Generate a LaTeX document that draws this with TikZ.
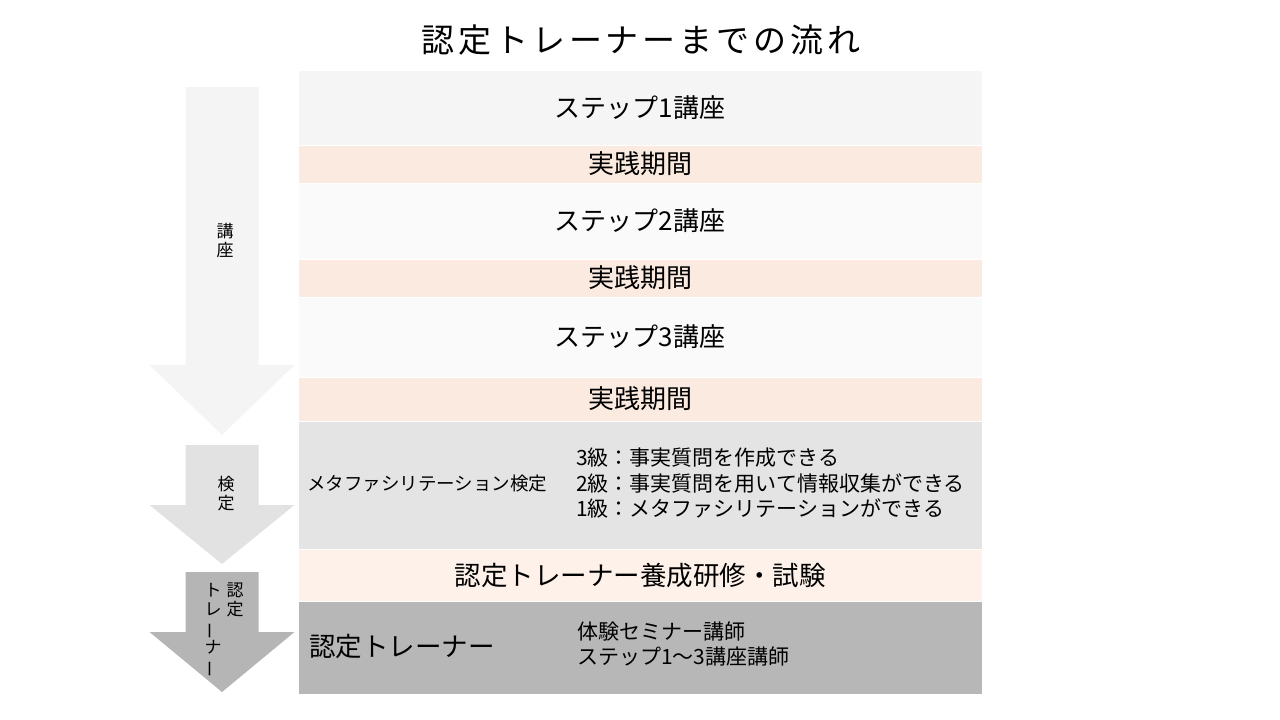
\documentclass[tikz,border=0pt]{standalone}
\usepackage{fontspec}
\setmainfont{Noto Sans CJK JP}
\definecolor{cstepa}{HTML}{F5F5F5}
\definecolor{cstepb}{HTML}{FAFAFA}
\definecolor{cpeach}{HTML}{FBEAE0}
\definecolor{cpeachl}{HTML}{FDF1E9}
\definecolor{cmeta}{HTML}{E4E4E4}
\definecolor{ctrainer}{HTML}{B7B7B7}
\definecolor{carra}{HTML}{F4F4F4}
\definecolor{carrb}{HTML}{E2E2E2}
\definecolor{carrc}{HTML}{B5B5B5}
\newcommand{\vbar}{\rotatebox[origin=c]{90}{ー}}
\begin{document}
\begin{tikzpicture}[x=1pt,y=-1pt,
  bar/.style={draw=white, line width=0.6pt, minimum width=684pt, inner sep=0pt, font=\fontsize{26pt}{30pt}\selectfont},
  txt/.style={inner sep=0pt, anchor=west},
  vlabel/.style={inner sep=0pt, align=center, font=\fontsize{17pt}{19pt}\selectfont}
]
\useasboundingbox (0,0) rectangle (1280,720);
% title
\node[inner sep=0pt, font=\fontsize{33pt}{36pt}\selectfont\addfontfeature{LetterSpace=12}] (title) at (641,40) {認定トレーナーまでの流れ};
% arrows
\fill[carra] (185.5,87) -- (258.5,87) -- (258.5,365) -- (294.5,365) -- (222,435) -- (149.5,365) -- (185.5,365) -- cycle;
\fill[carrb] (185.5,445) -- (258.5,445) -- (258.5,505) -- (294.5,505) -- (222,564) -- (149.5,505) -- (185.5,505) -- cycle;
\fill[carrc] (185.5,572) -- (258.5,572) -- (258.5,632) -- (294.5,632) -- (222,692) -- (149.5,632) -- (185.5,632) -- cycle;
\node[vlabel] (la) at (225,241) {講\\座};
\node[vlabel] (lb) at (226,494) {検\\定};
\node[vlabel, anchor=north] (lc) at (235,583) {認\\定};
\node[vlabel, anchor=north] (ld) at (213,583) {ト\\レ\\\vbar\\ナ\\\vbar};
% bars
\node[bar, fill=cstepa, minimum height=75pt] (s1) at (640,107.5) {ステップ1講座};
\node[bar, fill=cpeach, minimum height=38pt] (p1) at (640,164) {実践期間};
\node[bar, fill=cstepb, minimum height=76pt] (s2) at (640,221) {ステップ2講座};
\node[bar, fill=cpeach, minimum height=38pt] (p2) at (640,278) {実践期間};
\node[bar, fill=cstepb, minimum height=80pt] (s3) at (640,337) {ステップ3講座};
\node[bar, fill=cpeach, minimum height=44pt] (p3) at (640,399) {実践期間};
\node[bar, fill=cmeta, minimum height=128pt] (meta) at (640,485) {};
\node[bar, fill=cpeachl, minimum height=52pt, font=\fontsize{26.5pt}{30pt}\selectfont] (train) at (640,575) {認定トレーナー養成研修・試験};
\node[bar, fill=ctrainer, minimum height=93pt] (tr) at (640,647.5) {};
% meta texts
\node[txt, font=\fontsize{18.5pt}{22pt}\selectfont] (metal) at (307,484) {メタファシリテーション検定};
\node[txt, align=left, font=\fontsize{21pt}{25.5pt}\selectfont] (metar) at (576,483.5) {3級：事実質問を作成できる\\2級：事実質問を用いて情報収集ができる\\1級：メタファシリテーションができる};
% trainer texts
\node[txt, font=\fontsize{26.5pt}{30pt}\selectfont] (trl) at (309,646) {認定トレーナー};
\node[txt, align=left, font=\fontsize{21pt}{25pt}\selectfont] (trr) at (577,644.5) {体験セミナー講師\\ステップ1〜3講座講師};
\end{tikzpicture}
\end{document}
